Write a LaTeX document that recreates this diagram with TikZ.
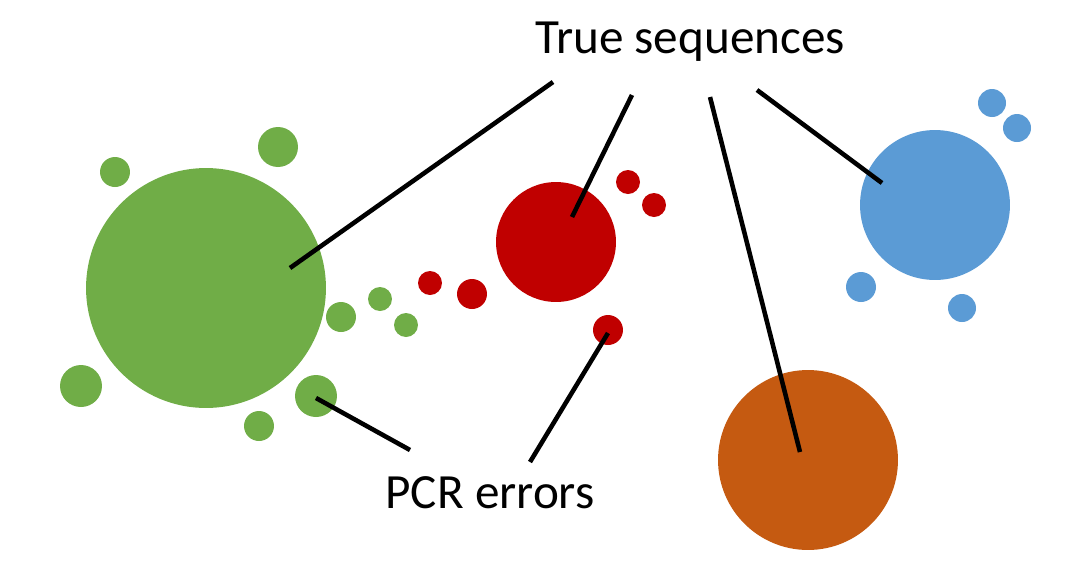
\documentclass[tikz,border=0pt]{standalone}
\usepackage{fontspec}
\setmainfont{Carlito}
\definecolor{cg}{HTML}{70AD47}
\definecolor{cr}{HTML}{C00000}
\definecolor{cb}{HTML}{5B9BD5}
\definecolor{co}{HTML}{C55A11}
\begin{document}
\begin{tikzpicture}[x=0.02cm,y=-0.02cm,
  dot/.style={circle,inner sep=0,outer sep=0,draw=none},
  lbl/.style={font=\fontsize{28}{32}\selectfont,inner sep=0},
  ln/.style={line width=2.6pt,black}]
\useasboundingbox (0,0) rectangle (1086,566);
\newcommand\dt[5]{\node[dot,fill=#1,minimum size={#5*0.04cm}] (#2) at (#3,#4) {};}
\dt{cg}{g0}{206}{288}{120}
\dt{cg}{g1}{278}{147}{20}
\dt{cg}{g2}{115}{172}{15}
\dt{cg}{g3}{81}{386}{21}
\dt{cg}{g4}{259}{426}{15}
\dt{cg}{g5}{316}{396}{21}
\dt{cg}{g6}{341}{317}{15}
\dt{cg}{g7}{380}{299}{12}
\dt{cg}{g8}{406}{325}{12}
\dt{cr}{r0}{556}{242}{60}
\dt{cr}{r1}{628}{182}{12}
\dt{cr}{r2}{654}{205}{12}
\dt{cr}{r3}{430}{283}{12}
\dt{cr}{r4}{472}{294}{15}
\dt{cr}{r5}{608}{330}{15}
\dt{cb}{b0}{935}{205}{75}
\dt{cb}{b1}{992}{103}{14}
\dt{cb}{b2}{1017}{128}{14}
\dt{cb}{b3}{861}{287}{15}
\dt{cb}{b4}{962}{308}{14}
\dt{co}{o0}{808}{460}{90}
\node[lbl] (ts) at (690,42) {True sequences};
\node[lbl] (pcr) at (490,493) {PCR errors};
\coordinate (t1) at (553,82); \coordinate (e1) at (290,268);
\coordinate (t2) at (632,95); \coordinate (e2) at (572,217);
\coordinate (t3) at (710,97); \coordinate (e3) at (800,452);
\coordinate (t4) at (757,90); \coordinate (e4) at (882,183);
\coordinate (p1) at (410,450); \coordinate (f1) at (316,398);
\coordinate (p2) at (530,462); \coordinate (f2) at (608,333);
\draw[ln] (t1) -- (e1);
\draw[ln] (t2) -- (e2);
\draw[ln] (t3) -- (e3);
\draw[ln] (t4) -- (e4);
\draw[ln] (p1) -- (f1);
\draw[ln] (p2) -- (f2);
\end{tikzpicture}
\end{document}
